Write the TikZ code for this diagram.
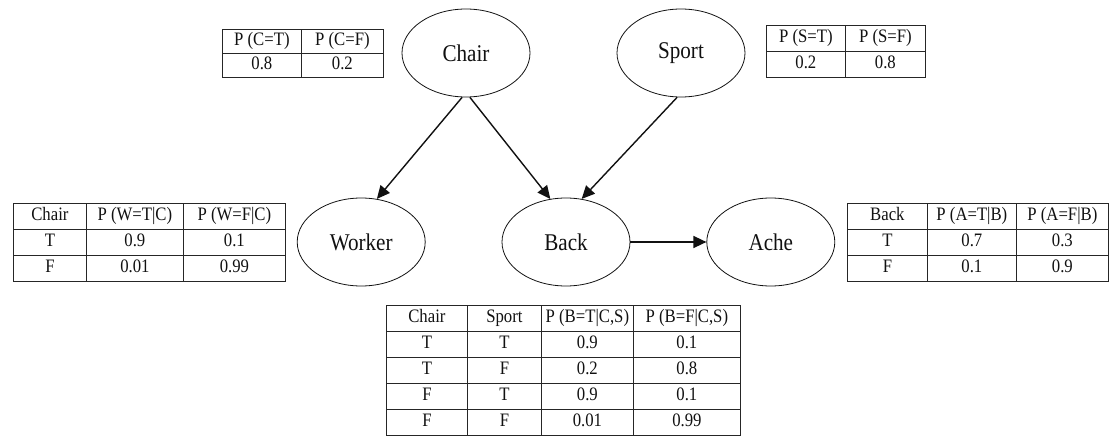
\documentclass[tikz,border=0pt]{standalone}
\usepackage{fontspec}
\setmainfont{Liberation Serif}
\newfontfamily\narrowserif[FakeStretch=0.88]{Liberation Serif}
\usepackage{xcolor}
\usepackage{tikz}
\usetikzlibrary{positioning,arrows.meta,matrix,shapes.geometric}
\definecolor{ink}{HTML}{111111}
\definecolor{rule}{HTML}{262626}

\tikzset{
  var/.style={draw=ink, ellipse, line width=0.8pt, minimum width=128pt, minimum height=88pt,
    inner sep=0pt, text=ink, font=\narrowserif\fontsize{24}{28}\selectfont},
  link/.style={draw=ink, line width=1.4pt, -{Triangle[length=13pt,width=12pt]}},
  cpt/.style={matrix of nodes, anchor=north west, inner sep=0pt, outer sep=0pt,
    column sep=-0.8pt, row sep=-0.8pt,
    nodes={draw=rule, line width=0.8pt, inner sep=0pt, text height=13pt, text depth=4.5pt,
      text=ink, font=\narrowserif\fontsize{19}{22}\selectfont}},
  colw/.style n args={2}{column #1/.style={nodes={minimum width=#2}}},
  rowh/.style={nodes={minimum height=#1}},
}

\begin{document}
\begin{tikzpicture}[x=1pt, y=-1pt]
  \useasboundingbox (0,0) rectangle (1109,436);

  \node[var] (chair) at (466,53) {Chair};
  \node[var] (sport) at (681,53) {Sport};
  \node[var] (back) at (566,242) {Back};
  \node[var, left=76pt of back] (worker) {Worker};
  \node[var, right=76pt of back] (ache) {Ache};

  \draw[link] (chair.-95) -- (worker.70);
  \draw[link] (chair.-85) -- (back.110);
  \draw[link] (sport.-95) -- (back.70);
  \draw[link] (back) -- (ache);

  \matrix (chaircpt) [cpt, colw={1}{79pt}, colw={2}{82pt}, rowh=24pt] at (222,29) {
    P (C=T) & P (C=F) \\
    0.8 & 0.2 \\
  };
  \matrix (sportcpt) [cpt, colw={1}{79pt}, colw={2}{80pt}, rowh=26pt] at (766,25) {
    P (S=T) & P (S=F) \\
    0.2 & 0.8 \\
  };
  \matrix (workercpt) [cpt, colw={1}{73pt}, colw={2}{97pt}, colw={3}{102pt}, rowh=26pt] at (13,203) {
    Chair & P (W=T|C) & P (W=F|C) \\
    T & 0.9 & 0.1 \\
    F & 0.01 & 0.99 \\
  };
  \matrix (achecpt) [cpt, colw={1}{80pt}, colw={2}{89pt}, colw={3}{92pt}, rowh=26pt] at (847,203) {
    Back & P (A=T|B) & P (A=F|B) \\
    T & 0.7 & 0.3 \\
    F & 0.1 & 0.9 \\
  };
  \matrix (backcpt) [cpt, colw={1}{81pt}, colw={2}{74pt}, colw={3}{92pt}, colw={4}{107pt}, rowh=26pt] at (386,305) {
    Chair & Sport & P (B=T|C,S) & P (B=F|C,S) \\
    T & T & 0.9 & 0.1 \\
    T & F & 0.2 & 0.8 \\
    F & T & 0.9 & 0.1 \\
    F & F & 0.01 & 0.99 \\
  };
\end{tikzpicture}
\end{document}
